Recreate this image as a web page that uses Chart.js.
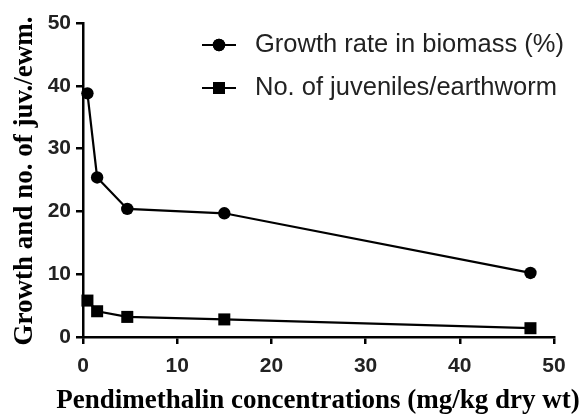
<!DOCTYPE html>
<html lang="en">
<head>
    <meta charset="UTF-8">
    <title>Pendimethalin chart</title>
    <style>
        body {
            margin: 0;
            background-color: #ffffff;
        }
        canvas {
            display: block;
        }
    </style>
</head>
<body>
    <canvas id="myChart" width="587" height="414"></canvas>

    <script src="https://cdn.jsdelivr.net/npm/chart.js"></script>
    <script>
        // data
        var concentrations = [0.47, 1.5, 4.7, 15, 47.5];
        var growthRate = [38.8, 25.4, 20.4, 19.7, 10.2];
        var juveniles = [5.8, 4.1, 3.2, 2.8, 1.4];
        var xTicks = [0, 10, 20, 30, 40, 50];
        var yTicks = [0, 10, 20, 30, 40, 50];

        var seriesLabels = ['Growth rate in biomass (%)', 'No. of juveniles/earthworm'];
        var xTitle = 'Pendimethalin concentrations (mg/kg dry wt)';
        var yTitle = 'Growth and no. of juv./ewm.';

        function toPoints(values) {
            return concentrations.map(function (c, i) { return { x: c, y: values[i] }; });
        }

        // legend drawn inside the plot, line + marker like the original
        var insideLegend = {
            id: 'insideLegend',
            afterDraw: function (chart) {
                var ctx = chart.ctx;
                var rows = [45, 88];
                ctx.save();
                chart.data.datasets.forEach(function (ds, i) {
                    var y = rows[i];
                    ctx.strokeStyle = '#000';
                    ctx.lineWidth = 2;
                    ctx.beginPath();
                    ctx.moveTo(202, y);
                    ctx.lineTo(236, y);
                    ctx.stroke();
                    ctx.fillStyle = '#000';
                    Chart.helpers.drawPoint(ctx, { pointStyle: ds.pointStyle, radius: ds.pointRadius, borderWidth: 0 }, 219, y);
                    ctx.fill();
                    ctx.fillStyle = '#222';
                    ctx.font = '25.5px "Liberation Sans", Arial, sans-serif';
                    ctx.textBaseline = 'middle';
                    ctx.fillText(ds.label, 255, y);
                });
                ctx.restore();
            }
        };

        // axis titles: chart.js squeezes them to the axis length, the original runs wider
        var axisTitles = {
            id: 'axisTitles',
            afterDraw: function (chart) {
                var ctx = chart.ctx;
                ctx.save();
                ctx.fillStyle = '#000';
                ctx.font = 'bold 27px "Liberation Serif", "Times New Roman", serif';
                ctx.textAlign = 'center';
                ctx.textBaseline = 'alphabetic';
                ctx.fillText(xTitle, 318, 408);
                ctx.translate(32, 181);
                ctx.rotate(-Math.PI / 2);
                ctx.fillText(yTitle, 0, 0);
                ctx.restore();
            }
        };

        var tickFont = { family: '"Liberation Sans", Arial, sans-serif', size: 21, weight: 'bold' };

        var myChart = new Chart(document.getElementById('myChart'), {
            type: 'line',
            data: {
                datasets: [{
                    label: seriesLabels[0],
                    data: toPoints(growthRate),
                    borderColor: '#000',
                    backgroundColor: '#000',
                    borderWidth: 2.2,
                    pointStyle: 'circle',
                    pointRadius: 6.2,
                    pointBorderWidth: 0,
                    tension: 0,
                    clip: false
                }, {
                    label: seriesLabels[1],
                    data: toPoints(juveniles),
                    borderColor: '#000',
                    backgroundColor: '#000',
                    borderWidth: 2.2,
                    pointStyle: 'rect',
                    pointRadius: 8.5,
                    pointBorderWidth: 0,
                    tension: 0,
                    clip: false
                }]
            },
            options: {
                responsive: false,
                animation: false,
                layout: { padding: { top: 23, right: 33, left: 0, bottom: 0 } },
                plugins: {
                    legend: { display: false },
                    tooltip: { enabled: false }
                },
                scales: {
                    x: {
                        type: 'linear',
                        min: 0,
                        max: 50,
                        afterFit: function (s) { s.height = 77; },
                        afterBuildTicks: function (s) { s.ticks = xTicks.map(function (v) { return { value: v }; }); },
                        border: { display: true, color: '#000', width: 2.5 },
                        grid: { drawOnChartArea: false, drawTicks: true, tickLength: 7, color: '#000', lineWidth: 2.5 },
                        ticks: { color: '#222', font: tickFont, padding: 10, maxRotation: 0 },
                        title: { display: false }
                    },
                    y: {
                        min: 0,
                        max: 50,
                        afterFit: function (s) { s.width = 83; },
                        afterBuildTicks: function (s) { s.ticks = yTicks.map(function (v) { return { value: v }; }); },
                        border: { display: true, color: '#000', width: 2.5 },
                        grid: { drawOnChartArea: false, drawTicks: true, tickLength: 7, color: '#000', lineWidth: 2.5 },
                        ticks: { color: '#222', font: tickFont, padding: 5 },
                        title: { display: false }
                    }
                }
            },
            plugins: [insideLegend, axisTitles]
        });
    </script>
</body>
</html>
